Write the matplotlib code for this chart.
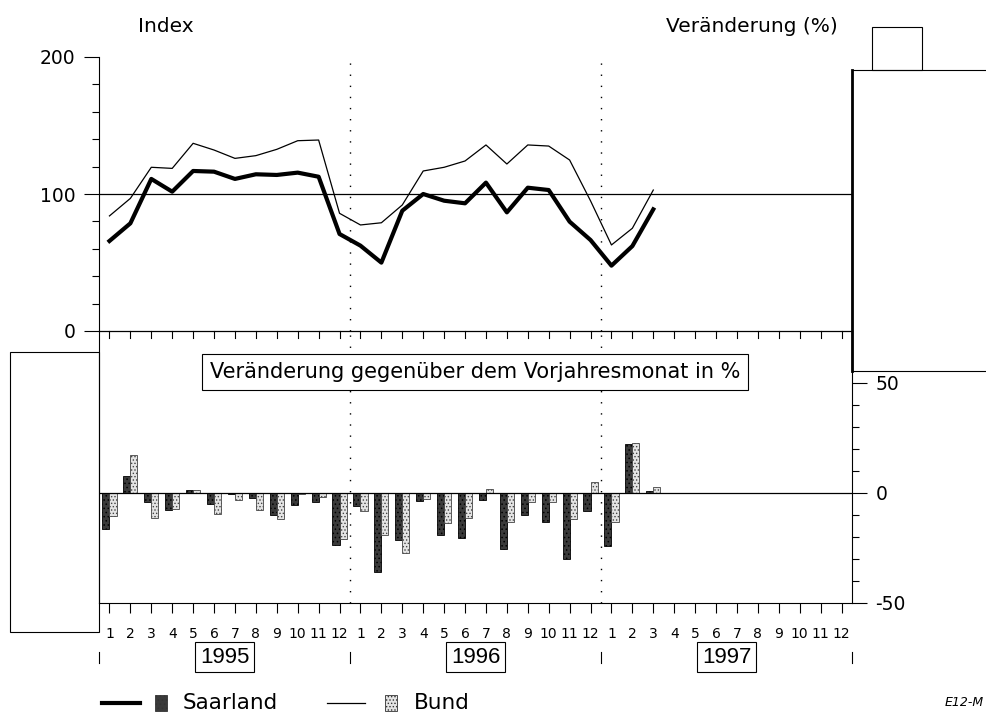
import numpy as np
import matplotlib
matplotlib.use('Agg')
import matplotlib.pyplot as plt
from matplotlib.lines import Line2D
from matplotlib.patches import Rectangle
import matplotlib.transforms as mtrans

plt.rcParams['font.family'] = ['DejaVu Sans']
plt.rcParams['axes.unicode_minus'] = False
plt.rcParams['hatch.linewidth'] = 0.6

# Index (top panel), Jan 1995 - Mar 1997
saarland_idx = [65.7, 78.6, 111, 101.7, 116.8, 116.3, 111, 114.4, 113.9, 115.6, 112.6, 70.8,
                62.3, 49.9, 87.8, 100, 95.1, 93.2, 108.3, 86.6, 104.6, 102.9, 79.8, 66.4,
                47.7, 62, 88.8]
bund_idx = [84, 96.8, 119.5, 118.7, 137, 132.1, 126, 128, 132.6, 138.9, 139.4, 85.9,
            77.4, 79, 92, 116.8, 119.5, 124.1, 135.8, 121.9, 135.8, 135, 124.8, 95,
            62.8, 75, 102.9]

# Veraenderung gegenueber Vorjahresmonat in %
saarland_chg = [-16.2, 7.6, -4.2, -7.6, 1.5, -4.8, -0.3, -2.3, -10.2, -5.3, -4.2, -23.8,
                -5.8, -36, -21.5, -3.5, -18.9, -20.5, -3.3, -25.3, -9.8, -13.2, -30, -8.3,
                -24.2, 22.4, 1.1]
bund_chg = [-10.6, 17.4, -11.4, -7.1, 1.2, -9.5, -3.3, -7.9, -11.7, -0.5, -2, -20.9,
            -8.3, -18.9, -27.3, -2.7, -13.6, -11.4, 1.8, -13.2, -4.1, -4.1, -11.8, 5,
            -13.2, 22.7, 2.6]

years = ['1995', '1996', '1997']
month_labels = [str(m) for m in range(1, 13)] * 3

DARK = '#3a3a3a'
LIGHT = '#e4e4e4'

x_all = np.arange(36)
x = np.arange(len(saarland_idx))

fig = plt.figure(figsize=(9.87, 7.14), dpi=100)
L, W = 99 / 987, (852 - 99) / 987
ax1 = fig.add_axes([L, 1 - 331 / 714, W, (331 - 57) / 714])
ax2 = fig.add_axes([L, 1 - 603 / 714, W, (603 - 331) / 714])

# ---- top panel: Index
ax1.plot(x, bund_idx, color='black', lw=0.9)
ax1.plot(x, saarland_idx, color='black', lw=3)
ax1.axhline(100, color='black', lw=0.9)
ax1.set_xlim(-0.5, 35.5)
ax1.set_ylim(0, 200)
ax1.set_yticks([0, 100, 200])
ax1.set_yticks(np.arange(0, 201, 20), minor=True)
ax1.tick_params(axis='y', which='major', length=11, width=0.8, labelsize=13.5, pad=6)
ax1.tick_params(axis='y', which='minor', length=5, width=0.8)
ax1.set_xticks([])
for s in ['top', 'right', 'bottom']:
    ax1.spines[s].set_visible(False)

# ---- bottom panel: change in %
w = 0.34
ax2.bar(x - w / 2, saarland_chg, width=w, facecolor=DARK, edgecolor='black',
        lw=0.6, hatch='....')
ax2.bar(x + w / 2, bund_chg, width=w, facecolor=LIGHT, edgecolor='#444444',
        lw=0.6, hatch='.....')
ax2.axhline(0, color='black', lw=0.9)
ax2.set_xlim(-0.5, 35.5)
ax2.set_ylim(-50, 73.6)
ax2.yaxis.tick_right()
ax2.set_yticks([-50, 0, 50])
ax2.set_yticks(np.arange(-50, 51, 10), minor=True)
ax2.tick_params(axis='y', which='major', length=11, width=0.8, labelsize=13.5, pad=6)
ax2.tick_params(axis='y', which='minor', length=5, width=0.8)
ax2.set_xticks(x_all)
ax2.set_xticklabels(month_labels, fontsize=10)
ax2.tick_params(axis='x', which='major', length=7, width=0.8, pad=10, direction='out')
ax2.spines['top'].set_linewidth(0.9)

# inward ticks on the line between the panels
trans_top = mtrans.blended_transform_factory(ax2.transData, ax2.transAxes)
for xi in x_all:
    ax2.plot([xi, xi], [1, 0.975], color='black', lw=0.8, transform=trans_top,
             clip_on=False)

# year separators (dotted)
for xb in [11.5, 23.5]:
    ax1.axvline(xb, color='black', lw=1, dashes=(1, 7))
    ax2.axvline(xb, color='black', lw=1, dashes=(1, 7))

# year boundaries and boxed year labels below
for xb in [-0.5, 11.5, 23.5, 35.5]:
    ax2.plot([xb, xb], [-0.18, -0.22], color='black', lw=0.8, transform=trans_top,
             clip_on=False)
for i, yr in enumerate(years):
    ax2.text(i * 12 + 5.5, -0.2, yr, transform=trans_top, ha='center', va='center',
             family='Liberation Sans', fontsize=16,
             bbox=dict(boxstyle='square,pad=0.2', fc='white', ec='black', lw=0.8))

ax2.text(0.499, 0.849, 'Veränderung gegenüber dem Vorjahresmonat in %',
         transform=ax2.transAxes, ha='center', va='center', fontsize=15,
         bbox=dict(boxstyle='square,pad=0.38', fc='white', ec='black', lw=0.8))

# axis titles
fig.text(0.168, 0.963, 'Index', ha='center', va='center', fontsize=14.5)
fig.text(0.762, 0.963, 'Veränderung (%)', ha='center', va='center', fontsize=14.5)

# legend (drawn by hand: line + small pattern box + label)
ly = 1 - 703 / 714
legend_items = [('Saarland', 3, DARK, '....', 102, 155, 183),
                ('Bund', 0.9, LIGHT, '.....', 327, 385, 414)]
for name, lw, fc, hatch, x_line, x_box, x_txt in legend_items:
    fig.add_artist(Line2D([x_line / 987, (x_line + 38) / 987], [ly, ly], color='black',
                          lw=lw, transform=fig.transFigure))
    fig.add_artist(Rectangle((x_box / 987, ly - 8 / 714), 12 / 987, 16 / 714,
                             facecolor=fc, edgecolor='#333333', hatch=hatch, lw=0.6,
                             transform=fig.transFigure))
    fig.text(x_txt / 987, ly, name, ha='left', va='center', fontsize=15.5)

fig.text(0.957, ly, 'E12-M', ha='left', va='center', fontsize=9, style='italic')

# scan frame remnants
frame = dict(fill=False, ec='black', lw=0.8, transform=fig.transFigure, clip_on=False)
fig.patches.append(Rectangle((852 / 987, 1 - 371 / 714), 140 / 987, 301 / 714, **frame))
fig.patches.append(Rectangle((872 / 987, 1 - 70 / 714), 50 / 987, 43 / 714, **frame))
fig.patches.append(Rectangle((10 / 987, 1 - 632 / 714), 89 / 987, 280 / 714, **frame))
fig.add_artist(Line2D([852 / 987, 852 / 987], [1 - 371 / 714, 1 - 70 / 714],
                      color='black', lw=2, transform=fig.transFigure))

fig.savefig('out.png', dpi=100)
